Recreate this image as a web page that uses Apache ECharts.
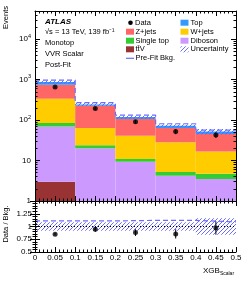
<!DOCTYPE html>
<html><head><meta charset="utf-8">
<script src="https://cdn.jsdelivr.net/npm/echarts@6/dist/echarts.min.js"></script>
<style>html,body{margin:0;padding:0;background:#fff}#c{width:249px;height:281px}</style>
</head><body><div id="c"></div>
<script>
// ---- data ----
const binEdges = [0, 0.1, 0.2, 0.3, 0.4, 0.5];
const ttV       = [3.0, 0.3, 0.2, 0.1, 0.1];
const diboson   = [67, 20, 9.2, 4.1, 3.4];
const singleTop = [15, 3.5, 1.6, 1.0, 1.2];
const wjets     = [255, 40, 30, 23, 12];
const zjets     = [415, 164, 65, 36, 29];
const topq      = [125, 17, 13, 8.4, 6.5];
const dataVals  = [663, 195, 91, 52, 43];
const dataErr   = [26, 14, 9.5, 7.2, 6.6];
const ratioVals = [0.85, 0.945, 0.88, 0.855, 0.97];
const ratioErr  = [0.02, 0.05, 0.065, 0.09, 0.13];
const prefitRatio = [1.11, 1.11, 1.12, 1.12, 1.09];
const uncRel    = [0.085, 0.085, 0.085, 0.085, 0.16];
const xTickLabels = ['0','0.05','0.1','0.15','0.2','0.25','0.3','0.35','0.4','0.45','0.5'];
const mainYTicks = [1, 10, 100, 1000, 10000];
const ratioYTicks = [0.5, 0.75, 1, 1.25];

const FONT = 'Liberation Sans, Arial, Helvetica, sans-serif';
const YMIN = 1, YMAX = 5e4;
const nb = dataVals.length;
const centers = binEdges.slice(0, nb).map((e, i) => (e + binEdges[i + 1]) / 2);

function hatchCanvas() {
  const c = document.createElement('canvas'); c.width = 4; c.height = 4;
  const g = c.getContext('2d');
  g.strokeStyle = '#5b5bff'; g.lineWidth = 0.9;
  g.beginPath();
  g.moveTo(0, 4); g.lineTo(4, 0);
  g.moveTo(-1, 1); g.lineTo(1, -1);
  g.moveTo(3, 5); g.lineTo(5, 3);
  g.stroke();
  return c;
}
const hatch = { image: hatchCanvas(), repeat: 'repeat' };

// stacks
const comps = [
  { name: 'ttV', vals: ttV, color: '#993333' },
  { name: 'Diboson', vals: diboson, color: '#cc99ff' },
  { name: 'Single top', vals: singleTop, color: '#33cc33' },
  { name: 'W+jets', vals: wjets, color: '#ffcc00' },
  { name: 'Z+jets', vals: zjets, color: '#ff6666' },
  { name: 'Top', vals: topq, color: '#3399ff' }
];
const cum = new Array(nb).fill(0);
const stackSeries = comps.map(c => {
  const d = [];
  for (let i = 0; i < nb; i++) {
    const lo = cum[i], hi = cum[i] + c.vals[i];
    d.push([binEdges[i], binEdges[i + 1], lo, hi]);
    cum[i] = hi;
  }
  return {
    type: 'custom', name: c.name, xAxisIndex: 0, yAxisIndex: 0, clip: true,
    itemStyle: { color: c.color }, data: d, z: 2,
    renderItem: (p, api) => {
      const lo = Math.max(api.value(2), YMIN), hi = api.value(3);
      if (hi <= YMIN) return;
      const a = api.coord([api.value(0), hi]), b = api.coord([api.value(1), lo]);
      return { type: 'rect', shape: { x: a[0], y: a[1], width: b[0] - a[0], height: b[1] - a[1] },
        style: { fill: api.visual('color') } };
    }
  };
});
const total = cum.slice();

function bandSeries(xi, yi, lows, highs) {
  return {
    type: 'custom', xAxisIndex: xi, yAxisIndex: yi, clip: true, z: 3,
    data: lows.map((l, i) => [binEdges[i], binEdges[i + 1], l, highs[i]]),
    renderItem: (p, api) => {
      const a = api.coord([api.value(0), api.value(3)]), b = api.coord([api.value(1), api.value(2)]);
      return { type: 'rect', shape: { x: a[0], y: a[1], width: b[0] - a[0], height: b[1] - a[1] },
        style: { fill: hatch } };
    }
  };
}
function stepLine(vals) {
  const d = [];
  for (let i = 0; i < nb; i++) { d.push([binEdges[i], vals[i]]); d.push([binEdges[i + 1], vals[i]]); }
  return d;
}
function errSeries(xi, yi, vals, errs) {
  return {
    type: 'custom', xAxisIndex: xi, yAxisIndex: yi, z: 6,
    data: vals.map((v, i) => [centers[i], v - errs[i], v + errs[i]]),
    renderItem: (p, api) => {
      const a = api.coord([api.value(0), api.value(1)]), b = api.coord([api.value(0), api.value(2)]);
      return { type: 'line', shape: { x1: a[0], y1: a[1], x2: b[0], y2: b[1] }, style: { stroke: '#000', lineWidth: 1 } };
    }
  };
}

const minorLog = [];
for (let d = 0; d < 5; d++) for (let k = 2; k <= 9; k++) { const v = k * Math.pow(10, d); if (v < YMAX) minorLog.push(v); }

const supMap = { '2': '²', '3': '³', '4': '⁴' };
function logFmt(v) {
  if (v === 1) return '1';
  if (v === 10) return '10';
  const e = Math.round(Math.log10(v));
  return '10{s|' + e + '}';
}

const axisLineS = { show: true, lineStyle: { color: '#000', width: 1 } };
const lab = { fontFamily: FONT, fontSize: 8, color: '#000' };

const xBase = (grid, pos, showLab) => ({
  type: 'value', gridIndex: grid, position: pos, min: 0, max: 0.5, interval: 0.05, z: 10,
  axisLine: axisLineS,
  axisTick: { show: true, inside: true, length: 5, lineStyle: { color: '#000' } },
  minorTick: { show: true, splitNumber: 5, length: 2.5, lineStyle: { color: '#000' } },
  splitLine: { show: false },
  axisLabel: showLab ? Object.assign({ show: true, margin: 2, formatter: (v) => xTickLabels[Math.round(v / 0.05)] }, lab) : { show: false }
});

const option = {
  animation: false,
  backgroundColor: '#fff',
  grid: [
    { left: 35, right: 13, top: 11, height: 190 },
    { left: 35, right: 13, top: 201, height: 51 }
  ],
  xAxis: [xBase(0, 'bottom', false), xBase(0, 'top', false), xBase(1, 'bottom', true), xBase(1, 'top', false)],
  yAxis: [
    { type: 'log', logBase: 10, gridIndex: 0, position: 'left', min: YMIN, max: YMAX, z: 10,
      axisLine: axisLineS, splitLine: { show: false },
      axisTick: { show: true, inside: true, length: 5, customValues: mainYTicks, lineStyle: { color: '#000' } },
      axisLabel: Object.assign({ show: true, margin: 4, customValues: mainYTicks, formatter: logFmt,
        rich: { s: { fontSize: 5.5, fontFamily: FONT, padding: [0, 0, 6, 0] } } }, lab) },
    { type: 'log', logBase: 10, gridIndex: 0, position: 'left', min: YMIN, max: YMAX, z: 10,
      axisLine: { show: false }, splitLine: { show: false }, axisLabel: { show: false },
      axisTick: { show: true, inside: true, length: 2.5, customValues: minorLog, lineStyle: { color: '#000' } } },
    { type: 'log', logBase: 10, gridIndex: 0, position: 'right', min: YMIN, max: YMAX, z: 10,
      axisLine: axisLineS, splitLine: { show: false }, axisLabel: { show: false },
      axisTick: { show: true, inside: true, length: 5, customValues: mainYTicks, lineStyle: { color: '#000' } } },
    { type: 'log', logBase: 10, gridIndex: 0, position: 'right', min: YMIN, max: YMAX, z: 10,
      axisLine: { show: false }, splitLine: { show: false }, axisLabel: { show: false },
      axisTick: { show: true, inside: true, length: 2.5, customValues: minorLog, lineStyle: { color: '#000' } } },
    { type: 'value', gridIndex: 1, position: 'left', min: 0.5, max: 1.5, interval: 0.25, z: 10,
      axisLine: axisLineS, splitLine: { show: false },
      axisTick: { show: true, inside: true, length: 5, lineStyle: { color: '#000' } },
      minorTick: { show: true, splitNumber: 5, length: 2.5, lineStyle: { color: '#000' } },
      axisLabel: Object.assign({ show: true, margin: 3, formatter: (v) => ratioYTicks.indexOf(v) >= 0 ? String(v) : '' }, lab) },
    { type: 'value', gridIndex: 1, position: 'right', min: 0.5, max: 1.5, interval: 0.25, z: 10,
      axisLine: axisLineS, splitLine: { show: false }, axisLabel: { show: false },
      axisTick: { show: true, inside: true, length: 5, lineStyle: { color: '#000' } },
      minorTick: { show: true, splitNumber: 5, length: 2.5, lineStyle: { color: '#000' } } }
  ],
  series: [
    ...stackSeries,
    bandSeries(0, 0, total.map((t, i) => t * (1 - uncRel[i])), total.map((t, i) => t * (1 + uncRel[i]))),
    { type: 'line', xAxisIndex: 0, yAxisIndex: 0, data: stepLine(total.map((t, i) => t * prefitRatio[i])),
      symbol: 'none', lineStyle: { color: '#6b6bff', width: 1.2, type: [5, 3] }, z: 4, silent: true },
    errSeries(0, 0, dataVals, dataErr),
    { type: 'scatter', xAxisIndex: 0, yAxisIndex: 0, data: dataVals.map((v, i) => [centers[i], v]),
      symbol: 'circle', symbolSize: 5, itemStyle: { color: '#000' }, z: 7 },
    // ratio
    bandSeries(2, 4, uncRel.map(u => 1 - u), uncRel.map(u => 1 + u)),
    { type: 'line', xAxisIndex: 2, yAxisIndex: 4, data: [[0, 1], [0.5, 1]], symbol: 'none',
      lineStyle: { color: '#000', width: 1, type: [1, 2] }, z: 4 },
    { type: 'line', xAxisIndex: 2, yAxisIndex: 4, data: stepLine(prefitRatio), symbol: 'none',
      lineStyle: { color: '#6b6bff', width: 1.2, type: [5, 3] }, z: 4 },
    errSeries(2, 4, ratioVals, ratioErr),
    { type: 'scatter', xAxisIndex: 2, yAxisIndex: 4, data: ratioVals.map((v, i) => [centers[i], v]),
      symbol: 'circle', symbolSize: 5, itemStyle: { color: '#000' }, z: 7 }
  ],
  graphic: [
    { type: 'text', left: 45, top: 18, style: { text: 'ATLAS', font: 'italic bold 8px ' + FONT, fill: '#000' } },
    { type: 'text', left: 45, top: 28, style: { text: '√s = 13 TeV, 139 fb⁻¹', font: '7.5px ' + FONT, fill: '#000' } },
    { type: 'text', left: 45, top: 39, style: { text: 'Monotop', font: '7.5px ' + FONT, fill: '#000' } },
    { type: 'text', left: 45, top: 50, style: { text: 'VVR Scalar', font: '7.5px ' + FONT, fill: '#000' } },
    { type: 'text', left: 45, top: 61, style: { text: 'Post-Fit', font: '7.5px ' + FONT, fill: '#000' } },
    // y titles
    { type: 'text', x: 6, y: 6, rotation: Math.PI / 2, style: { text: 'Events', font: '7.5px ' + FONT, fill: '#000', align: 'right', verticalAlign: 'middle' } },
    { type: 'text', x: 6, y: 224, rotation: Math.PI / 2, style: { text: 'Data / Bkg.', font: '7.5px ' + FONT, fill: '#000', align: 'center', verticalAlign: 'middle' } },
    // x title
    { type: 'text', x: 203, y: 266, style: { rich: { m: { fontSize: 8, fontFamily: FONT }, s: { fontSize: 5, fontFamily: FONT, padding: [5, 0, 0, 0] } }, text: '{m|XGB}{s|Scalar}', fill: '#000' } },
    // legend col 1
    { type: 'circle', shape: { cx: 130.5, cy: 22.7, r: 2.3 }, style: { fill: '#000' } },
    { type: 'text', x: 135, y: 22.7, style: { text: 'Data', font: '7.5px ' + FONT, fill: '#000', verticalAlign: 'middle' } },
    { type: 'rect', shape: { x: 126, y: 28.7, width: 8, height: 6 }, style: { fill: '#ff6666' } },
    { type: 'text', x: 135.5, y: 31.7, style: { text: 'Z+jets', font: '7.5px ' + FONT, fill: '#000', verticalAlign: 'middle' } },
    { type: 'rect', shape: { x: 126, y: 37.7, width: 8, height: 6 }, style: { fill: '#33cc33' } },
    { type: 'text', x: 135.5, y: 40.7, style: { text: 'Single top', font: '7.5px ' + FONT, fill: '#000', verticalAlign: 'middle' } },
    { type: 'rect', shape: { x: 126, y: 46.3, width: 8, height: 6 }, style: { fill: '#993333' } },
    { type: 'text', x: 135.5, y: 49.3, style: { text: 'tt̄V', font: '7.5px ' + FONT, fill: '#000', verticalAlign: 'middle' } },
    { type: 'line', shape: { x1: 126, y1: 58.3, x2: 134, y2: 58.3 }, style: { stroke: '#6b6bff', lineWidth: 1.2 } },
    { type: 'text', x: 135.5, y: 58.3, style: { text: 'Pre-Fit Bkg.', font: '7.5px ' + FONT, fill: '#000', verticalAlign: 'middle' } },
    // legend col 2
    { type: 'rect', shape: { x: 180.5, y: 19.7, width: 8, height: 6 }, style: { fill: '#3399ff' } },
    { type: 'text', x: 190.5, y: 22.7, style: { text: 'Top', font: '7.5px ' + FONT, fill: '#000', verticalAlign: 'middle' } },
    { type: 'rect', shape: { x: 180.5, y: 28.7, width: 8, height: 6 }, style: { fill: '#ffcc00' } },
    { type: 'text', x: 190.5, y: 31.7, style: { text: 'W+jets', font: '7.5px ' + FONT, fill: '#000', verticalAlign: 'middle' } },
    { type: 'rect', shape: { x: 180.5, y: 37.7, width: 8, height: 6 }, style: { fill: '#cc99ff' } },
    { type: 'text', x: 190.5, y: 40.7, style: { text: 'Diboson', font: '7.5px ' + FONT, fill: '#000', verticalAlign: 'middle' } },
    { type: 'rect', shape: { x: 180.5, y: 46.3, width: 8, height: 6 }, style: { fill: hatch } },
    { type: 'text', x: 190.5, y: 49.3, style: { text: 'Uncertainty', font: '7.5px ' + FONT, fill: '#000', verticalAlign: 'middle' } }
  ]
};
const chart = echarts.init(document.getElementById('c'), null, { renderer: 'canvas' });
chart.setOption(option);
</script></body></html>
